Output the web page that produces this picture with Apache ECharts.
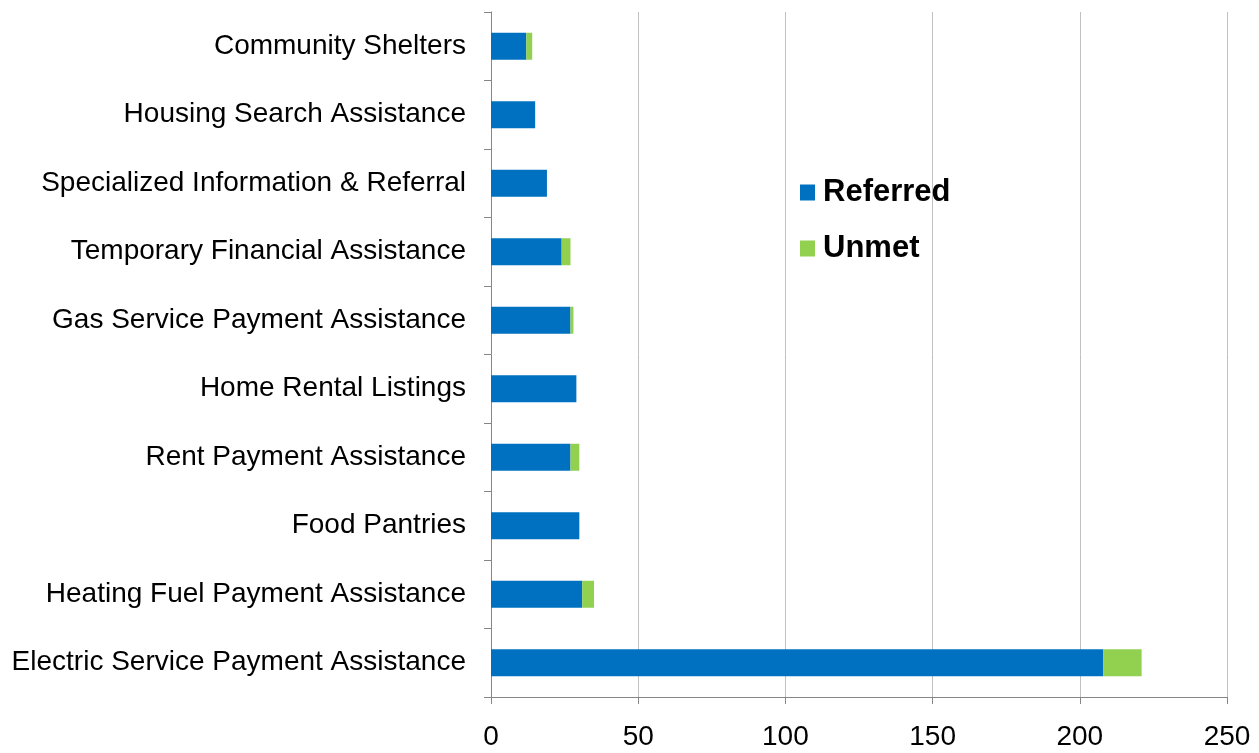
<!DOCTYPE html>
<html>
<head>
<meta charset="utf-8">
<script src="https://cdn.jsdelivr.net/npm/echarts@6/dist/echarts.min.js"></script>
<style>
  html, body { margin: 0; padding: 0; background: #fff; }
  #chart { width: 1259px; height: 753px; }
</style>
</head>
<body>
<div id="chart"></div>
<script>
// categories listed top to bottom, as in the picture
var categories = [
  'Community Shelters',
  'Housing Search Assistance',
  'Specialized Information & Referral',
  'Temporary Financial Assistance',
  'Gas Service Payment Assistance',
  'Home Rental Listings',
  'Rent Payment Assistance',
  'Food Pantries',
  'Heating Fuel Payment Assistance',
  'Electric Service Payment Assistance'
];
var referred = [12, 15, 19, 24, 27, 29, 27, 30, 31, 208];
var unmet = [2, 0, 0, 3, 1, 0, 3, 0, 4, 13];
var xTicks = [0, 50, 100, 150, 200, 250];

var font = 'Liberation Sans, Arial, sans-serif';
var myChart = echarts.init(document.getElementById('chart'));

var option = {
  animation: false,
  grid: { left: 491, right: 32, top: 12, bottom: 56, containLabel: false },
  legend: {
    orient: 'vertical',
    left: 795,
    top: 172,
    icon: 'rect',
    itemWidth: 15,
    itemHeight: 16,
    itemGap: 25,
    textStyle: { fontSize: 31, fontWeight: 'bold', color: '#000', fontFamily: font, padding: [0, 0, 0, 3] },
    data: ['Referred', 'Unmet']
  },
  xAxis: {
    type: 'value',
    min: xTicks[0],
    max: xTicks[xTicks.length - 1],
    interval: 50,
    axisLine: { show: true, lineStyle: { color: '#868686' } },
    axisTick: { show: true, length: 7, lineStyle: { color: '#868686' } },
    axisLabel: { fontSize: 28, color: '#000', fontFamily: font, margin: 26 },
    splitLine: { show: true, lineStyle: { color: '#c0c0c0' } }
  },
  yAxis: {
    type: 'category',
    inverse: true,
    data: categories,
    axisLine: { show: true, lineStyle: { color: '#868686' } },
    axisTick: { show: true, length: 7, lineStyle: { color: '#868686' } },
    axisLabel: { fontSize: 28, color: '#000', fontFamily: font, margin: 25 },
    splitLine: { show: false }
  },
  series: [
    {
      name: 'Referred',
      type: 'bar',
      stack: 'total',
      barWidth: 27,
      itemStyle: { color: '#0070C0' },
      data: referred
    },
    {
      name: 'Unmet',
      type: 'bar',
      stack: 'total',
      barWidth: 27,
      itemStyle: { color: '#92D050' },
      data: unmet
    }
  ]
};

myChart.setOption(option);
</script>
</body>
</html>
